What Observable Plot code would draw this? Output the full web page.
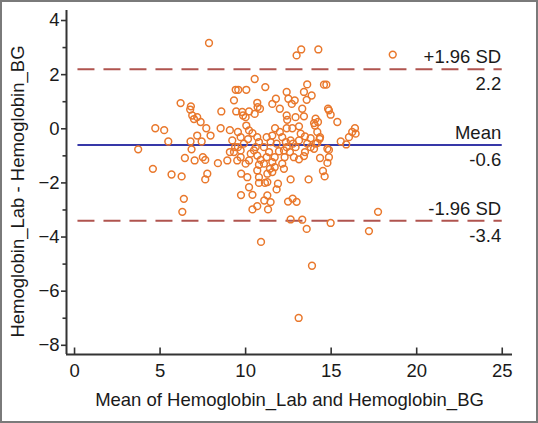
<!DOCTYPE html>
<html>
<head>
<meta charset="utf-8">
<script src="https://cdn.jsdelivr.net/npm/d3@7"></script>
<script src="https://cdn.jsdelivr.net/npm/@observablehq/plot@0.6"></script>
<style>
  body { margin: 0; background: #fff; }
  #wrap { position: relative; width: 538px; height: 423px; }
  #border { position: absolute; left: 0; top: 0; width: 538px; height: 423px; box-sizing: border-box; border: 2px solid #7a7a7a; pointer-events: none; }
</style>
</head>
<body>
<div id="wrap"><div id="border"></div></div>
<script>
// Mean of the two methods (x) and difference Lab - BG (y)
const meanValues = [
  7.86, 12.98, 13.25, 14.25, 18.6, 10.53, 11.15, 9.42, 9.57, 10.04,
  9.32, 10.68, 10.70, 10.84, 10.53, 10.2, 9.8, 9.85, 10.0, 9.45,
  6.20, 6.80, 6.76, 6.88, 6.98, 7.17, 7.37, 7.70, 7.95, 8.58,
  8.54, 9.08, 4.72, 5.24, 5.48, 3.72, 4.58, 5.67, 6.26, 6.45,
  6.39, 6.30, 6.78, 6.84, 7.02, 7.17, 7.43, 7.50, 7.64, 7.76,
  7.64, 8.38, 8.93, 9.08, 9.39, 9.51, 9.74, 9.73, 10.1, 10.2,
  10.4, 10.4, 10.68, 10.78, 11.09, 11.27, 11.46, 11.31, 10.9, 11.81,
  11.89, 11.27, 12.63, 12.48, 12.75, 12.98, 12.63, 13.31, 13.57, 14.97,
  13.88, 13.1, 17.21, 17.74, 13.68, 14.52, 14.62, 14.78, 14.87, 14.87,
  14.35, 15.36, 15.56, 15.88, 16.04, 16.23, 16.39, 16.43, 14.87, 14.97,
  14.82, 14.58, 14.72, 13.6, 13.86, 13.41, 13.57, 13.31, 13.41, 12.4,
  12.5, 12.87, 12.7, 11.77, 11.56, 12.0, 12.4, 12.43, 12.92, 13.12,
  14.09, 14.23, 14.05, 14.19, 14.33, 14.19, 14.0, 13.8, 13.6, 13.47,
  13.47, 13.41, 13.12, 12.82, 12.59, 12.4, 12.77, 13.12, 13.22, 12.73,
  12.4, 12.14, 12.0, 11.72, 11.56, 11.46, 11.23, 11.81, 11.95, 12.24,
  12.28, 12.14, 12.24, 11.7, 11.56, 11.7, 11.42, 11.56, 11.27, 11.07,
  10.78, 10.68, 10.78, 11.13, 10.88, 10.68, 10.49, 10.3, 10.2, 10.0,
  9.71, 9.71, 9.55, 9.9, 9.71, 9.55, 10.04, 10.2, 10.4, 10.68,
  10.78, 10.59, 11.07, 11.37, 11.23, 9.32, 9.22, 14.78, 14.35, 14.09,
  13.8, 12.63, 12.92, 12.35, 10.14, 14.0
];
const diffValues = [
  3.17, 2.71, 2.93, 2.93, 2.74, 1.84, 1.54, 1.44, 1.44, 1.44,
  1.05, 0.96, 0.80, 0.74, 0.55, 0.64, 0.62, 0.49, 0.43, 0.64,
  0.95, 0.83, 0.71, 0.49, 0.36, 0.43, 0.25, 0.02, -0.25, 0.64,
  0.02, -0.05, 0.02, -0.05, -0.47, -0.76, -1.48, -1.69, -1.76, -1.08,
  -2.59, -3.07, -0.47, -0.76, -1.17, -0.25, -0.47, -1.05, -1.15, -1.66,
  -1.87, -1.27, -1.17, -0.86, -0.68, -1.17, -1.66, -2.45, -1.79, -2.16,
  -2.44, -2.98, -2.86, -2.0, -2.65, -2.46, -2.71, -2.98, -4.18, -2.24,
  -2.03, -1.97, -1.87, -2.69, -2.58, -2.70, -3.35, -3.36, -3.70, -3.48,
  -5.06, -6.99, -3.78, -3.07, -1.87, -1.56, -1.76, -1.26, -1.05, -0.78,
  -1.08, 0.25, -0.47, -0.58, -0.31, -0.12, 0.02, -0.18, 0.68, 0.52,
  0.74, 1.63, 1.63, 1.64, 1.23, 1.36, 1.07, 0.74, 0.46, 1.36,
  1.11, 1.05, 0.92, 1.11, 0.92, 0.74, 0.49, 0.33, 0.43, 0.09,
  0.37, 0.25, 0.12, -0.12, -0.37, -0.53, -0.74, -0.68, -0.55, -0.28,
  -0.86, -1.01, -1.13, -1.05, -0.86, -0.68, -0.55, -0.43, -0.18, 0.02,
  0.02, -0.31, -0.12, 0.02, -0.25, -0.49, -0.31, -0.55, -0.83, -0.80,
  -1.05, -1.29, -1.48, -1.05, -1.23, -1.42, -1.48, -1.60, -1.66, -1.29,
  -1.33, -1.54, -1.79, -2.0, -1.15, -0.99, -0.80, -0.92, -1.17, -1.29,
  -1.05, -0.80, -0.68, -0.55, -0.31, -0.12, 0.12, -0.06, -0.16, -0.31,
  -0.49, -0.68, -0.68, -0.86, -1.05, -0.86, -0.43, -0.74, -0.31, -0.55,
  -0.35, -0.43, -0.68, -0.49, -0.38, 0.21
];
// Limits of agreement
const limitValues = [2.2, -0.6, -3.4];
const limitNames = ["+1.96 SD", "Mean", "-1.96 SD"];
const limitLabels = ["2.2", "-0.6", "-3.4"];
const xTickValues = [0, 5, 10, 15, 20, 25];
const yTickValues = [-8, -6, -4, -2, 0, 2, 4];
const yMinorTicks = [-7, -5, -3, -1, 1, 3];
const xTitle = "Mean of Hemoglobin_Lab and Hemoglobin_BG";
const yTitle = "Hemoglobin_Lab - Hemoglobin_BG";

const points = meanValues.map((m, i) => ({mean: m, diff: diffValues[i]}));
const limits = limitValues.map((v, i) => ({value: v, name: limitNames[i], label: limitLabels[i]}));

const xDom = [-0.47, 25.6];
const yDom = [-8.34, 4.37];
const axisColor = "#333";
const textColor = "#1a1a1a";
const fs = 18.5;

const chart = Plot.plot({
  width: 538,
  height: 423,
  marginLeft: 66,
  marginRight: 26,
  marginTop: 10,
  marginBottom: 69,
  style: {fontFamily: "'Liberation Sans', Arial, sans-serif", fontSize: fs + "px", color: textColor, background: "transparent"},
  x: {domain: xDom, range: [66, 512]},
  y: {domain: yDom},
  marks: [
    // axis lines
    Plot.ruleX([xDom[0]], {y1: yDom[0], y2: yDom[1], stroke: axisColor, strokeWidth: 2}),
    Plot.ruleY([yDom[0]], {x1: xDom[0], x2: xDom[1], stroke: axisColor, strokeWidth: 2}),
    // y axis ticks and labels
    Plot.axisY({ticks: yTickValues, tickSize: 5, tickPadding: 2, stroke: axisColor, strokeWidth: 1.6, label: null, fill: textColor, fontSize: fs}),
    Plot.axisY({ticks: yMinorTicks, tickSize: 3.5, stroke: axisColor, strokeWidth: 1.6, text: null, label: null}),
    // x axis ticks (pointing inward) and labels
    Plot.ruleX(xTickValues, {y1: yDom[0], y2: yDom[0] + 0.24, stroke: axisColor, strokeWidth: 1.6}),
    Plot.axisX({ticks: xTickValues, tickSize: 0, tickPadding: 9, label: null, fill: textColor, fontSize: fs}),
    // limit lines
    Plot.ruleY(limits.filter(d => d.name !== "Mean"), {y: "value", x1: 0.2, x2: 25, stroke: "#b0544f", strokeWidth: 2, strokeDasharray: "17,9"}),
    Plot.ruleY(limits.filter(d => d.name === "Mean"), {y: "value", x1: 0.2, x2: 25, stroke: "#3638a8", strokeWidth: 2.2}),
    // points
    Plot.dot(points, {x: "mean", y: "diff", r: 3.4, stroke: "#e9782c", strokeWidth: 1.5, fill: "none"}),
    // limit labels
    Plot.text(limits, {x: 25, y: "value", text: "name", textAnchor: "end", lineAnchor: "bottom", dy: -6, dx: -1, fill: textColor, fontSize: fs}),
    Plot.text(limits, {x: 25, y: "value", text: "label", textAnchor: "end", lineAnchor: "top", dy: 8, dx: -1, fill: textColor, fontSize: fs}),
    // axis titles
    Plot.text([xTitle], {text: d => d, frameAnchor: "bottom", textAnchor: "middle", lineAnchor: "middle", dy: 46, fill: textColor, fontSize: fs}),
    Plot.text([yTitle], {text: d => d, frameAnchor: "left", textAnchor: "middle", rotate: -90, lineAnchor: "middle", dx: -48, dy: 9, fill: textColor, fontSize: fs})
  ]
});
document.getElementById("wrap").prepend(chart);
</script>
</body>
</html>
